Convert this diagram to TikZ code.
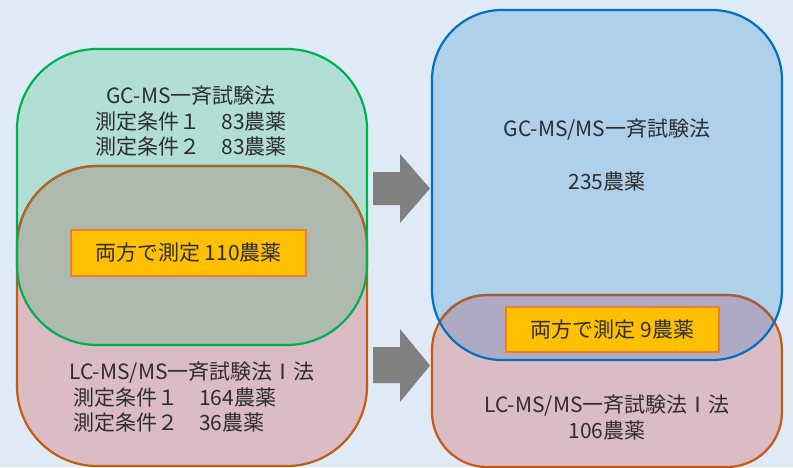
\documentclass[tikz,border=0pt]{standalone}
\usepackage{fontspec}
\setmainfont{Noto Sans CJK JP}
\definecolor{bgc}{RGB}{222,234,246}
\definecolor{gcfill}{RGB}{177,223,213}
\definecolor{gcline}{RGB}{0,176,80}
\definecolor{lcfill}{RGB}{220,188,196}
\definecolor{lcline}{RGB}{197,90,17}
\definecolor{lctop}{RGB}{165,105,40}
\definecolor{ovl}{RGB}{175,186,175}
\definecolor{bluefill}{RGB}{175,208,235}
\definecolor{blueline}{RGB}{0,112,192}
\definecolor{ovr}{RGB}{174,170,196}
\definecolor{rtop}{RGB}{160,96,60}
\definecolor{boxfill}{RGB}{255,192,0}
\definecolor{boxline}{RGB}{237,125,49}
\definecolor{arrowc}{RGB}{128,128,128}
\definecolor{txt}{RGB}{45,45,45}
\tikzset{
  txtstyle/.style={text=txt, font=\fontsize{21}{25.5}\selectfont, inner sep=0pt},
  countbox/.style={draw=boxline, fill=boxfill, line width=1.8pt, inner sep=0pt, text=txt, font=\fontsize{21}{25}\selectfont},
  blockarrow/.style={fill=arrowc},
  border/.style={line width=2.2pt}
}
\begin{document}
\begin{tikzpicture}[x=1pt,y=-1pt]
\fill[bgc] (0,0) rectangle (793,467);
\useasboundingbox (0,0) rectangle (793,467);
% left fills
\fill[gcfill, rounded corners=80pt] (17,49) rectangle (367,345);
\fill[lcfill, rounded corners=80pt] (17,166) rectangle (367,466);
\begin{scope}
  \clip[rounded corners=80pt] (17,49) rectangle (367,345);
  \fill[ovl, rounded corners=80pt] (17,166) rectangle (367,466);
\end{scope}
\draw[border, lcline, rounded corners=80pt] (17,166) rectangle (367,466);
\begin{scope}
  \clip[rounded corners=80pt] (17,49) rectangle (367,345);
  \draw[border, lctop, rounded corners=80pt] (17,166) rectangle (367,466);
\end{scope}
\draw[border, gcline, rounded corners=80pt] (17,49) rectangle (367,345);
% right fills
\fill[bluefill, rounded corners=70pt] (432,10) rectangle (782,360);
\fill[lcfill, rounded corners=55pt] (432,295) rectangle (782,467);
\begin{scope}
  \clip[rounded corners=70pt] (432,10) rectangle (782,360);
  \fill[ovr, rounded corners=55pt] (432,295) rectangle (782,467);
\end{scope}
\draw[border, lcline, rounded corners=55pt] (432,295) rectangle (782,467);
\begin{scope}
  \clip[rounded corners=70pt] (432,10) rectangle (782,360);
  \draw[border, rtop, rounded corners=55pt] (432,295) rectangle (782,467);
\end{scope}
\draw[border, blueline, rounded corners=70pt] (432,10) rectangle (782,360);
% arrows
\fill[blockarrow] (373,172) -- (400,172) -- (400,154) -- (430,188.5) -- (400,223) -- (400,205) -- (373,205) -- cycle;
\fill[blockarrow] (373,347) -- (400,347) -- (400,329) -- (430,365.5) -- (400,402) -- (400,383) -- (373,383) -- cycle;
% boxes
\node[countbox, minimum width=235pt, minimum height=46pt] (both1) at (188.5,253) {両方で測定 110農薬};
\node[countbox, minimum width=213pt, minimum height=45pt] (both2) at (612.5,329.5) {両方で測定 9農薬};
% texts
\node[txtstyle, align=center] (gc1) at (191,121.5) {GC-MS一斉試験法\\測定条件１　83農薬\\測定条件２　83農薬};
\node[txtstyle] (lc1) at (192,373) {LC-MS/MS一斉試験法Ⅰ法};
\node[txtstyle, align=left, anchor=west] (lc1b) at (73,410) {測定条件１　164農薬\\測定条件２　36農薬};
\node[txtstyle] (gc2) at (607,130) {GC-MS/MS一斉試験法};
\node[txtstyle] (gc2n) at (607,182) {235農薬};
\node[txtstyle] (lc2) at (607,406) {LC-MS/MS一斉試験法Ⅰ法};
\node[txtstyle] (lc2n) at (607,431) {106農薬};
\end{tikzpicture}
\end{document}
